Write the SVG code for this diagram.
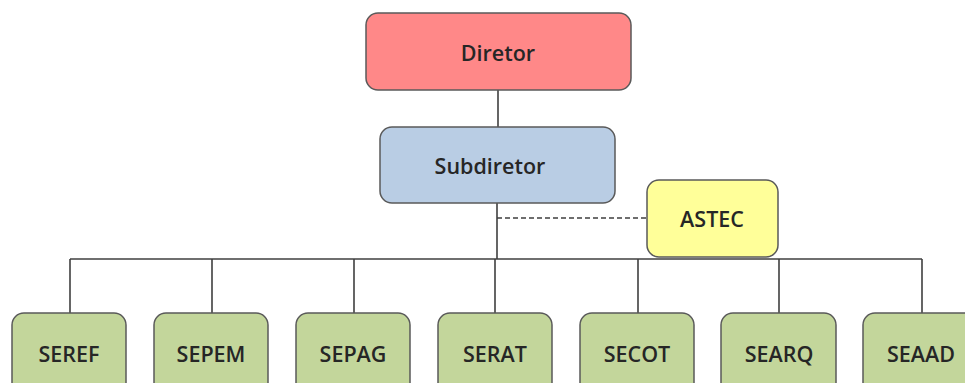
<svg xmlns="http://www.w3.org/2000/svg" width="965" height="383" viewBox="0 0 965 383">
  <style>
    .box { stroke: #5a5a5a; stroke-width: 1.5; }
    .dir { fill: #ff8888; }
    .sub { fill: #b9cde4; }
    .ast { fill: #ffff99; }
    .sec { fill: #c3d69b; }
    .lbl { font-family: "Open Sans", "Liberation Sans", sans-serif; font-weight: 600; font-size: 21.5px; fill: #262626; text-anchor: middle; dominant-baseline: central; }
    .link { stroke: #3f3f3f; stroke-width: 1.6; fill: none; }
    .dash { stroke: #3f3f3f; stroke-width: 1.3; stroke-dasharray: 5 3; fill: none; }
  </style>

  <g id="connectors">
    <line class="link" x1="498" y1="90" x2="498" y2="127"/>
    <line class="link" x1="497" y1="203" x2="497" y2="259"/>
    <line class="dash" x1="497" y1="218" x2="647" y2="218"/>
    <line class="link" x1="70" y1="259" x2="922" y2="259"/>
    <line class="link" x1="70" y1="259" x2="70" y2="313"/>
    <line class="link" x1="212" y1="259" x2="212" y2="313"/>
    <line class="link" x1="354" y1="259" x2="354" y2="313"/>
    <line class="link" x1="495" y1="259" x2="495" y2="313"/>
    <line class="link" x1="638" y1="259" x2="638" y2="313"/>
    <line class="link" x1="779" y1="259" x2="779" y2="313"/>
    <line class="link" x1="922" y1="259" x2="922" y2="313"/>
  </g>

  <g id="diretor">
    <rect class="box dir" x="366" y="13" width="265" height="77" rx="12"/>
    <text class="lbl" x="498" y="52">Diretor</text>
  </g>
  <g id="subdiretor">
    <rect class="box sub" x="380" y="127" width="235" height="76" rx="12"/>
    <text class="lbl" x="490" y="165">Subdiretor</text>
  </g>
  <g id="astec">
    <rect class="box ast" x="647" y="180" width="131" height="77" rx="12"/>
    <text class="lbl" x="712" y="218">ASTEC</text>
  </g>

  <g id="seref">
    <rect class="box sec" x="12" y="313" width="114" height="90" rx="12"/>
    <text class="lbl" x="69" y="353">SEREF</text>
  </g>
  <g id="sepem">
    <rect class="box sec" x="154" y="313" width="114" height="90" rx="12"/>
    <text class="lbl" x="211" y="353">SEPEM</text>
  </g>
  <g id="sepag">
    <rect class="box sec" x="296" y="313" width="114" height="90" rx="12"/>
    <text class="lbl" x="353" y="353">SEPAG</text>
  </g>
  <g id="serat">
    <rect class="box sec" x="438" y="313" width="114" height="90" rx="12"/>
    <text class="lbl" x="495" y="353">SERAT</text>
  </g>
  <g id="secot">
    <rect class="box sec" x="580" y="313" width="114" height="90" rx="12"/>
    <text class="lbl" x="637" y="353">SECOT</text>
  </g>
  <g id="searq">
    <rect class="box sec" x="721" y="313" width="115" height="90" rx="12"/>
    <text class="lbl" x="779" y="353">SEARQ</text>
  </g>
  <g id="seaad">
    <rect class="box sec" x="863" y="313" width="114" height="90" rx="12"/>
    <text class="lbl" x="921" y="353">SEAAD</text>
  </g>
</svg>
